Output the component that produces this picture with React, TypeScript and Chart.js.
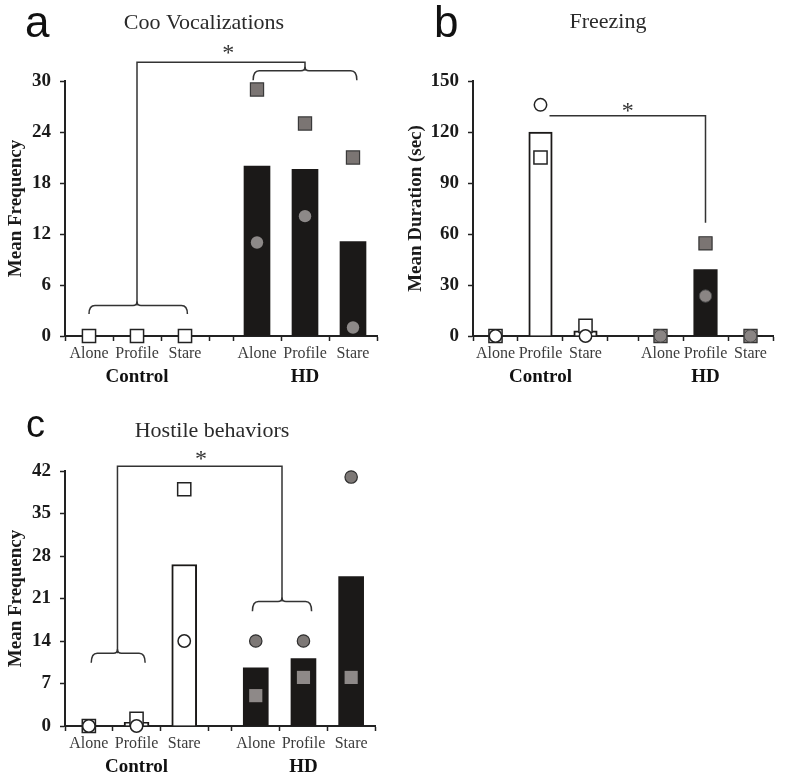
import React, { useEffect, useRef } from 'react';
import { Chart, registerables } from 'chart.js';

Chart.register(...registerables);

const SERIF = '"Liberation Serif", "Times New Roman", serif';
const SANS = '"Liberation Sans", Arial, sans-serif';

// Shared categories
const conditions = ['Alone', 'Profile', 'Stare'];
const groups = ['Control', 'HD'];

// Panel a: Coo Vocalizations (mean frequency) — Control Alone/Profile/Stare, HD Alone/Profile/Stare
const cooBars = [0, 0, 0, 20, 19.6, 11.1];
const cooSquares = [0, 0, 0, 29, 25, 21];
const cooCircles = [0, 0, 0, 11, 14.1, 1];
const cooTicks = [0, 6, 12, 18, 24, 30];

// Panel b: Freezing (mean duration, sec)
const freezeBars = [0, 120, 3, 0, 39, 0];
const freezeSquares = [0, 105, 6, 0, 54.5, 0];
const freezeCircles = [0, 136, 0, 0, 23.5, 0];
const freezeTicks = [0, 30, 60, 90, 120, 150];

// Panel c: Hostile behaviors (mean frequency)
const hostileBars = [0, 0.6, 26.6, 9.6, 11.1, 24.6];
const hostileSquares = [0, 1.2, 39, 5, 8, 8];
const hostileCircles = [0, 0, 14, 14, 14, 41];
const hostileTicks = [0, 7, 14, 21, 28, 35, 42];

type Brace = { xa: number; xb: number; xc: number; y: number; yEnd: number };
type PanelSpec = {
  letter: string; letterSize: number; letterX: number; letterY: number;
  title: string; titleX: number; titleY: number;
  yTitle: string;
  bars: number[]; squares: number[]; circles: number[]; yTicks: number[];
  gap: number; barWidth: number;
  left: number; top: number; width: number; height: number;
  pad: { left: number; top: number; right: number; bottom: number };
  yWidth: number;
  circlesOnTop: boolean;
  hdSquare: { fill: string; border: string; bw: number };
  hdCircle: { fill: string; border: string; bw: number };
  braces: Brace[];
  path: number[][];
  star: number[];
};

const panels: PanelSpec[] = [
  {
    letter: 'a', letterSize: 44, letterX: 25, letterY: 37,
    title: 'Coo Vocalizations', titleX: 204, titleY: 29,
    yTitle: 'Mean Frequency',
    bars: cooBars, squares: cooSquares, circles: cooCircles, yTicks: cooTicks,
    gap: 0.5, barWidth: 26,
    left: 0, top: 0, width: 400, height: 400,
    pad: { left: 0, top: 81, right: 23, bottom: 34 },
    yWidth: 65,
    circlesOnTop: false,
    hdSquare: { fill: '#7b7573', border: '#3a3a3a', bw: 1.2 },
    hdCircle: { fill: '#8d8988', border: '#8d8988', bw: 0 },
    braces: [
      { xa: 0.5, xb: 2.55, xc: 1.5, y: 3.6, yEnd: 2.6 },
      { xa: 3.92, xb: 6.08, xc: 5.0, y: 31.2, yEnd: 30.1 },
    ],
    path: [[1.5, 3.6], [1.5, 32.2], [5.0, 32.2], [5.0, 31.2]],
    star: [3.4, 33.9],
  },
  {
    letter: 'b', letterSize: 44, letterX: 34, letterY: 37,
    title: 'Freezing', titleX: 208, titleY: 28,
    yTitle: 'Mean Duration (sec)',
    bars: freezeBars, squares: freezeSquares, circles: freezeCircles, yTicks: freezeTicks,
    gap: 0.667, barWidth: 23.5,
    left: 400, top: 0, width: 400, height: 400,
    pad: { left: 0, top: 81, right: 27, bottom: 34 },
    yWidth: 73,
    circlesOnTop: true,
    hdSquare: { fill: '#7b7573', border: '#333333', bw: 1.2 },
    hdCircle: { fill: '#8a8584', border: '#4a4a4a', bw: 1 },
    braces: [],
    path: [[1.7, 129.6], [5.167, 129.6], [5.167, 66.6]],
    star: [3.44, 135.5],
  },
  {
    letter: 'c', letterSize: 38, letterX: 26, letterY: 37,
    title: 'Hostile behaviors', titleX: 212, titleY: 37,
    yTitle: 'Mean Frequency',
    bars: hostileBars, squares: hostileSquares, circles: hostileCircles, yTicks: hostileTicks,
    gap: 0.5, barWidth: 25,
    left: 0, top: 400, width: 400, height: 381,
    pad: { left: 0, top: 71, right: 25, bottom: 25 },
    yWidth: 65,
    circlesOnTop: true,
    hdSquare: { fill: '#8e8988', border: '#8e8988', bw: 0 },
    hdCircle: { fill: '#7d7876', border: '#2f2f2f', bw: 1.2 },
    braces: [
      { xa: 0.55, xb: 1.68, xc: 1.1, y: 12.0, yEnd: 10.4 },
      { xa: 3.93, xb: 5.17, xc: 4.55, y: 20.5, yEnd: 18.9 },
    ],
    path: [[1.1, 12.0], [1.1, 42.8], [4.55, 42.8], [4.55, 20.5]],
    star: [2.85, 44.8],
  },
];

function drawBrace(ctx: CanvasRenderingContext2D, xa: number, xb: number, xc: number, yl: number, ye: number) {
  const r = 6;
  const c = 4;
  ctx.beginPath();
  ctx.moveTo(xa, ye);
  ctx.quadraticCurveTo(xa, yl, xa + r, yl);
  ctx.lineTo(xc - c, yl);
  ctx.quadraticCurveTo(xc, yl, xc, yl - c);
  ctx.quadraticCurveTo(xc, yl, xc + c, yl);
  ctx.lineTo(xb - r, yl);
  ctx.quadraticCurveTo(xb, yl, xb, ye);
  ctx.stroke();
}

function makeChart(canvas: HTMLCanvasElement, spec: PanelSpec) {
  const g = spec.gap;
  const pos = (i: number) => (i < 3 ? i + 0.5 : i + 0.5 + g);
  const boundaries = [0, 1, 2, 3, 3 + g, 4 + g, 5 + g, 6 + g];
  const centers = [0, 1, 2, 3, 4, 5].map(pos);
  const allTicks = [...boundaries, ...centers].sort((a, b) => a - b);
  const near = (a: number, b: number) => Math.abs(a - b) < 1e-6;
  const isBoundary = (v: number) => boundaries.some((b) => near(b, v));

  const ctrlMarker = { fill: '#ffffff', border: '#222222', bw: 1.5 };
  const sq = spec.squares.map((_, i) => (i < 3 ? ctrlMarker : spec.hdSquare));
  const ci = spec.circles.map((_, i) => (i < 3 ? ctrlMarker : spec.hdCircle));

  const annot = {
    id: 'annot' + spec.letter,
    afterDraw(chart: any) {
      const ctx: CanvasRenderingContext2D = chart.ctx;
      const xs = chart.scales.x;
      const ys = chart.scales.y;
      const X = (v: number) => xs.getPixelForValue(v);
      const Y = (v: number) => ys.getPixelForValue(v);
      const area = chart.chartArea;
      ctx.save();
      // panel letter
      ctx.fillStyle = '#111';
      ctx.textBaseline = 'alphabetic';
      ctx.textAlign = 'left';
      ctx.font = `${spec.letterSize}px ${SANS}`;
      ctx.fillText(spec.letter, spec.letterX, spec.letterY);
      // title
      ctx.fillStyle = '#2a2a2a';
      ctx.textAlign = 'center';
      ctx.font = `22px ${SERIF}`;
      ctx.fillText(spec.title, spec.titleX, spec.titleY);
      // group labels
      ctx.fillStyle = '#111';
      ctx.font = `bold 19px ${SERIF}`;
      ctx.textBaseline = 'middle';
      groups.forEach((gname, gi) => {
        ctx.fillText(gname, X(pos(gi * 3 + 1)), area.bottom + 41);
      });
      // brackets
      ctx.strokeStyle = '#333';
      ctx.lineWidth = 1.5;
      spec.braces.forEach((b) => drawBrace(ctx, X(b.xa), X(b.xb), X(b.xc), Y(b.y), Y(b.yEnd)));
      ctx.beginPath();
      spec.path.forEach(([px, py], k) => {
        if (k === 0) ctx.moveTo(X(px), Y(py));
        else ctx.lineTo(X(px), Y(py));
      });
      ctx.stroke();
      // asterisk
      ctx.fillStyle = '#333';
      ctx.font = `24px ${SERIF}`;
      ctx.textBaseline = 'alphabetic';
      ctx.fillText('*', X(spec.star[0]), Y(spec.star[1]) + 12);
      ctx.restore();
    },
  };

  return new Chart(canvas, {
    type: 'bar',
    data: {
      datasets: [
        {
          type: 'bar',
          data: spec.bars.map((v, i) => ({ x: pos(i), y: v })),
          backgroundColor: spec.bars.map((_, i) => (i < 3 ? '#ffffff' : '#1b1918')),
          borderColor: '#1b1918',
          borderWidth: spec.bars.map((_, i) => (i < 3 ? 2 : 0)),
          barThickness: spec.barWidth,
          order: 10,
        } as any,
        {
          type: 'scatter',
          data: spec.squares.map((v, i) => ({ x: pos(i), y: v })),
          pointStyle: 'rect',
          pointRadius: 9.3,
          pointBackgroundColor: sq.map((s) => s.fill),
          pointBorderColor: sq.map((s) => s.border),
          pointBorderWidth: sq.map((s) => s.bw),
          clip: false,
          order: spec.circlesOnTop ? 5 : 1,
        } as any,
        {
          type: 'scatter',
          data: spec.circles.map((v, i) => ({ x: pos(i), y: v })),
          pointStyle: 'circle',
          pointRadius: 6.2,
          pointBackgroundColor: ci.map((s) => s.fill),
          pointBorderColor: ci.map((s) => s.border),
          pointBorderWidth: ci.map((s) => s.bw),
          clip: false,
          order: spec.circlesOnTop ? 1 : 5,
        } as any,
      ],
    },
    options: {
      responsive: false,
      animation: false,
      events: [],
      layout: { padding: spec.pad },
      plugins: { legend: { display: false }, tooltip: { enabled: false }, title: { display: false } },
      scales: {
        x: {
          type: 'linear',
          min: 0,
          max: 6 + g,
          offset: false,
          afterBuildTicks: (s: any) => {
            s.ticks = allTicks.map((v) => ({ value: v }));
          },
          afterFit: (s: any) => {
            s.height = 30;
          },
          ticks: {
            autoSkip: false,
            maxRotation: 0,
            padding: 3,
            color: '#3c3c3c',
            font: { family: SERIF, size: 16 },
            callback: (value: any) => {
              const idx = centers.findIndex((c) => near(c, Number(value)));
              return idx >= 0 ? conditions[idx % 3] : '';
            },
          },
          grid: {
            offset: false,
            drawOnChartArea: false,
            drawTicks: true,
            tickLength: 5,
            tickWidth: 1.5,
            tickColor: (ctx: any) => (ctx.tick && isBoundary(ctx.tick.value) ? '#222' : 'rgba(0,0,0,0)'),
          },
          border: { display: true, color: '#222', width: 2 },
        },
        y: {
          type: 'linear',
          min: spec.yTicks[0],
          max: spec.yTicks[spec.yTicks.length - 1],
          afterBuildTicks: (s: any) => {
            s.ticks = spec.yTicks.map((v) => ({ value: v }));
          },
          afterFit: (s: any) => {
            s.width = spec.yWidth;
          },
          ticks: {
            padding: 9,
            color: '#1a1a1a',
            font: { family: SERIF, size: 19, weight: 'bold' },
          },
          grid: {
            drawOnChartArea: false,
            drawTicks: true,
            tickLength: 5,
            tickWidth: 1.5,
            tickColor: '#222',
          },
          border: { display: true, color: '#222', width: 2 },
          title: {
            display: true,
            text: spec.yTitle,
            color: '#1a1a1a',
            font: { family: SERIF, size: 19, weight: 'bold' },
            padding: { top: 5, bottom: 0 },
          },
        },
      },
    } as any,
    plugins: [annot],
  });
}

function Panel({ spec }: { spec: PanelSpec }) {
  const ref = useRef<HTMLCanvasElement | null>(null);
  useEffect(() => {
    if (!ref.current) return;
    const chart = makeChart(ref.current, spec);
    return () => chart.destroy();
  }, [spec]);
  return (
    <canvas
      ref={ref}
      width={spec.width}
      height={spec.height}
      style={{ position: 'absolute', left: spec.left, top: spec.top, width: spec.width, height: spec.height }}
    />
  );
}

export default function App() {
  return (
    <div style={{ position: 'absolute', left: 0, top: 0, width: 800, height: 781, background: '#ffffff' }}>
      {panels.map((p) => (
        <Panel key={p.letter} spec={p} />
      ))}
    </div>
  );
}
